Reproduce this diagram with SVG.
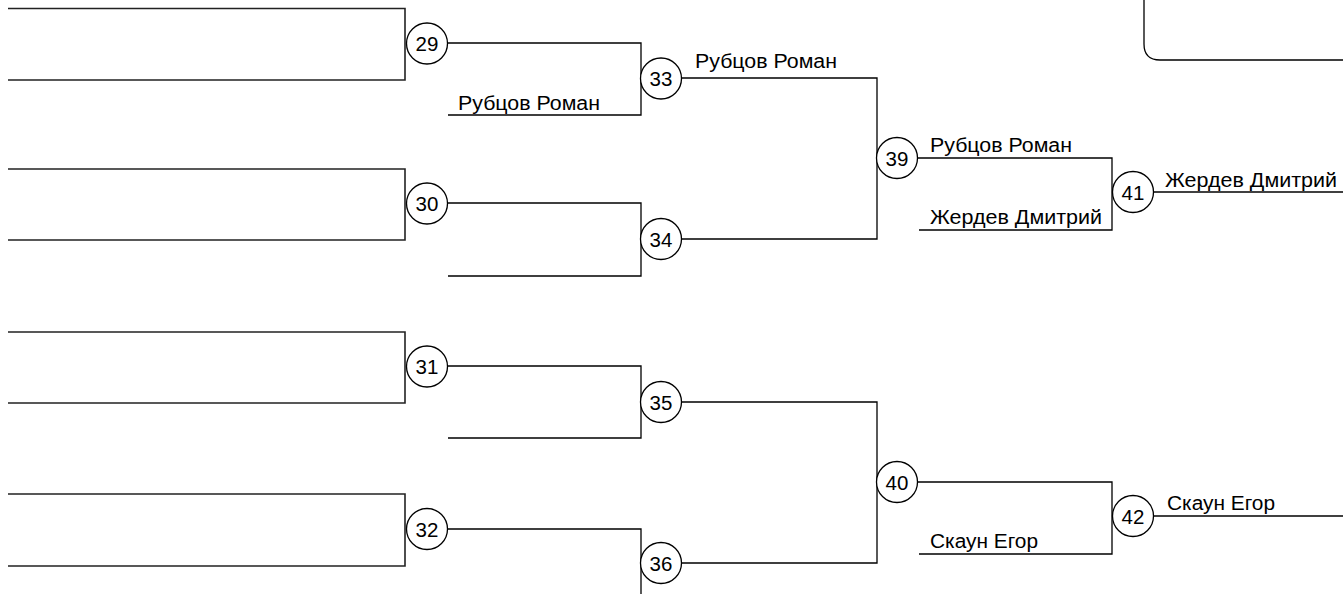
<svg xmlns="http://www.w3.org/2000/svg" width="1343" height="594" viewBox="0 0 1343 594">
<style>
.ln{fill:none;stroke:#000;stroke-width:1.3}
.bx{fill:none;stroke:#222;stroke-width:1.6}
.c{fill:#fff;stroke:#000;stroke-width:1.3}
.n{font-family:"Liberation Sans",Arial,sans-serif;font-size:20.5px;fill:#000;text-anchor:middle}
.t{font-family:"Liberation Sans",Arial,sans-serif;font-size:20px;fill:#000}
</style>
<rect width="1343" height="594" fill="#fff"/>
<path class="ln" d="M1144,-10 V44 Q1144,60 1160,60 H1350"/>
<g id="connectors">
<path class="bx" d="M8,8.5 H405 V80 H8"/>
<path class="bx" d="M8,169 H405 V240 H8"/>
<path class="bx" d="M8,332 H405 V403 H8"/>
<path class="bx" d="M8,494 H405 V566 H8"/>
<path class="ln" d="M448,43 H641 V115 H448"/>
<path class="ln" d="M448,203 H641 V276 H448"/>
<path class="ln" d="M448,366 H641 V438 H448"/>
<path class="ln" d="M448,529 H641 V600"/>
<path class="ln" d="M681,78 H877 V239 H681"/>
<path class="ln" d="M681,402 H877 V563 H681"/>
<path class="ln" d="M917,158 H1112 V230 H919"/>
<path class="ln" d="M917,482 H1112 V554 H919"/>
<path class="ln" d="M1153,192 H1343"/>
<path class="ln" d="M1153,516 H1343"/>
</g>
<g id="n29"><circle class="c" cx="427" cy="43.5" r="20.5"/><text class="n" x="427" y="51">29</text></g>
<g id="n30"><circle class="c" cx="427" cy="203.5" r="20.5"/><text class="n" x="427" y="211">30</text></g>
<g id="n31"><circle class="c" cx="427" cy="366.5" r="20.5"/><text class="n" x="427" y="374">31</text></g>
<g id="n32"><circle class="c" cx="427" cy="529" r="20.5"/><text class="n" x="427" y="536.5">32</text></g>
<g id="n33"><circle class="c" cx="661" cy="78.5" r="20.5"/><text class="n" x="661" y="86">33</text></g>
<g id="n34"><circle class="c" cx="661" cy="239" r="20.5"/><text class="n" x="661" y="246.5">34</text></g>
<g id="n35"><circle class="c" cx="661" cy="402" r="20.5"/><text class="n" x="661" y="409.5">35</text></g>
<g id="n36"><circle class="c" cx="661" cy="563" r="20.5"/><text class="n" x="661" y="570.5">36</text></g>
<g id="n39"><circle class="c" cx="897" cy="158" r="20.5"/><text class="n" x="897" y="165.5">39</text></g>
<g id="n40"><circle class="c" cx="897" cy="482" r="20.5"/><text class="n" x="897" y="489.5">40</text></g>
<g id="n41"><circle class="c" cx="1133" cy="192" r="20.5"/><text class="n" x="1133" y="199.5">41</text></g>
<g id="n42"><circle class="c" cx="1133" cy="516" r="20.5"/><text class="n" x="1133" y="523.5">42</text></g>
<g id="labels">
<text class="t" x="458" y="110" textLength="142" lengthAdjust="spacingAndGlyphs">Рубцов Роман</text>
<text class="t" x="695" y="68" textLength="142" lengthAdjust="spacingAndGlyphs">Рубцов Роман</text>
<text class="t" x="930" y="152" textLength="142" lengthAdjust="spacingAndGlyphs">Рубцов Роман</text>
<text class="t" x="930" y="224" textLength="172" lengthAdjust="spacingAndGlyphs">Жердев Дмитрий</text>
<text class="t" x="1165" y="187" textLength="172" lengthAdjust="spacingAndGlyphs">Жердев Дмитрий</text>
<text class="t" x="930" y="548" textLength="108" lengthAdjust="spacingAndGlyphs">Скаун Егор</text>
<text class="t" x="1167" y="510" textLength="108" lengthAdjust="spacingAndGlyphs">Скаун Егор</text>
</g>
</svg>
